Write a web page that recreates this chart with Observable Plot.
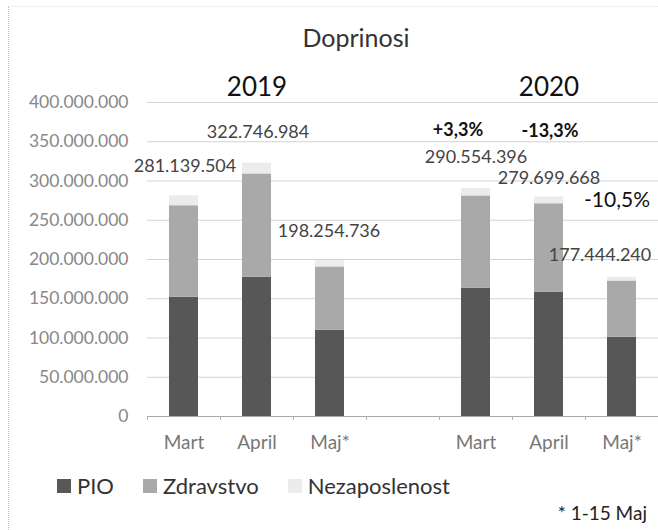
<!DOCTYPE html>
<html>
<head>
<meta charset="utf-8">
<script src="https://cdn.jsdelivr.net/npm/d3@7"></script>
<script src="https://cdn.jsdelivr.net/npm/@observablehq/plot@0.6"></script>
<style>
  html, body { margin: 0; padding: 0; background: #fff; }
  #wrap { position: relative; width: 658px; height: 530px; font-family: Lato, sans-serif; overflow: hidden; }
  #border { position: absolute; left: 8px; top: 6px; bottom: 0; width: 0; border-left: 1px dotted #bdbdbd; }
  #topborder { position: absolute; left: 8px; top: 6px; right: 0; height: 0; border-top: 1px dotted #e2e2e2; }
  #title { position: absolute; left: 256px; width: 200px; top: 25px; text-align: center; font-size: 25px; line-height: 1; color: #333; }
  #chart { position: absolute; left: 0; top: 60px; }
  #legend { position: absolute; left: 57px; top: 475px; height: 22px; display: flex; align-items: center; font-size: 22px; line-height: 1; color: #333; }
  .item { display: flex; align-items: center; margin-right: 29px; }
  .sw { width: 14px; height: 14px; margin-right: 6px; }
  #note { position: absolute; right: 11px; top: 503px; font-size: 19px; line-height: 1; color: #222; }
</style>
</head>
<body>
<div id="wrap">
  <div id="border"></div>
  <div id="topborder"></div>
  <div id="title">Doprinosi</div>
  <div id="chart"></div>
  <div id="legend"></div>
  <div id="note">* 1-15 Maj</div>
</div>
<script>
// ---- data ----
const categories = ["Mart 2019", "April 2019", "Maj* 2019", "", "Mart 2020", "April 2020", "Maj* 2020"];
const barCategories = ["Mart 2019", "April 2019", "Maj* 2019", "Mart 2020", "April 2020", "Maj* 2020"];
const series = ["PIO", "Zdravstvo", "Nezaposlenost"];
const pio = [152000000, 177500000, 110000000, 163500000, 158500000, 101000000];
const zdravstvo = [116500000, 131500000, 80500000, 117500000, 112500000, 71600000];
const nezaposlenost = [12600000, 13700000, 7800000, 9600000, 8700000, 4800000];
const totals = [281139504, 322746984, 198254736, 290554396, 279699668, 177444240];
const years = ["2019", "2020"];
const changes2020 = ["+3,3%", "-13,3%", "-10,5%"];
const yTicks = [0, 50000000, 100000000, 150000000, 200000000, 250000000, 300000000, 350000000, 400000000];
const colors = ["#575757", "#a9a9a9", "#ececec"];

// ---- build table ----
const rows = [];
barCategories.forEach((c, i) => {
  rows.push({cat: c, series: "PIO", value: pio[i]});
  rows.push({cat: c, series: "Zdravstvo", value: zdravstvo[i]});
  rows.push({cat: c, series: "Nezaposlenost", value: nezaposlenost[i]});
});

const dots = v => String(v).replace(/\B(?=(\d{3})+(?!\d))/g, ".");

const valueLabel = (i, dx, dy) => Plot.text([i], {
  x: j => barCategories[j], y: j => totals[j], text: j => dots(totals[j]),
  dx, dy, fontSize: 18, fill: "#444"
});
const changeLabel = (k, dx, dy, opts) => Plot.text([k], {
  x: j => barCategories[3 + j], y: j => totals[3 + j], text: j => changes2020[j],
  dx, dy, fill: "#111", ...opts
});

const chart = Plot.plot({
  width: 658,
  height: 396,
  marginLeft: 147,
  marginRight: 0,
  marginTop: 42,
  marginBottom: 40,
  style: {fontFamily: "Lato, sans-serif", color: "#7a7a7a", background: "transparent"},
  x: {domain: categories, paddingInner: 0.6, paddingOuter: 0.3, label: null},
  y: {domain: [0, 400000000], label: null},
  color: {domain: series, range: colors},
  marks: [
    Plot.ruleY(yTicks.filter(v => v > 0), {stroke: "#d2d2d2"}),
    Plot.barY(rows, {x: "cat", y: "value", fill: "series", order: series}),
    Plot.ruleY([0], {stroke: "#a8a8a8"}),
    Plot.ruleX(categories, {x: d => d, y1: 0, y2: -5000000, dx: -36.5, stroke: "#b0b0b0"}),
    Plot.ruleX([categories[categories.length - 1]], {x: d => d, y1: 0, y2: -5000000, dx: 36.5, stroke: "#b0b0b0"}),
    Plot.axisY({ticks: yTicks, tickFormat: dots, tickSize: 0, tickPadding: 19, fontSize: 17.5, fill: "#888", label: null}),
    Plot.axisX({tickSize: 0, tickPadding: 19, fontSize: 19, fill: "#777", tickFormat: d => d.split(" ")[0], label: null}),
    Plot.text(years, {x: d => "April " + d, y: () => 400000000, text: d => d, dy: -15, fontSize: 26, fill: "#111"}),
    valueLabel(0, 1, -30),
    valueLabel(1, 1, -31),
    valueLabel(2, -1, -30),
    valueLabel(3, 0, -31),
    valueLabel(4, 0, -19),
    valueLabel(5, -22, -22),
    changeLabel(0, -18, -58, {fontSize: 18, fontWeight: "bold"}),
    changeLabel(1, 1, -66, {fontSize: 18, fontWeight: "bold"}),
    changeLabel(2, -5, -77, {fontSize: 21})
  ]
});
document.getElementById("chart").appendChild(chart);

// ---- legend ----
const legend = document.getElementById("legend");
series.forEach((s, i) => {
  const item = document.createElement("div");
  item.className = "item";
  const sw = document.createElement("div");
  sw.className = "sw";
  sw.style.background = colors[i];
  const t = document.createElement("span");
  t.textContent = s;
  item.appendChild(sw);
  item.appendChild(t);
  legend.appendChild(item);
});
</script>
</body>
</html>
